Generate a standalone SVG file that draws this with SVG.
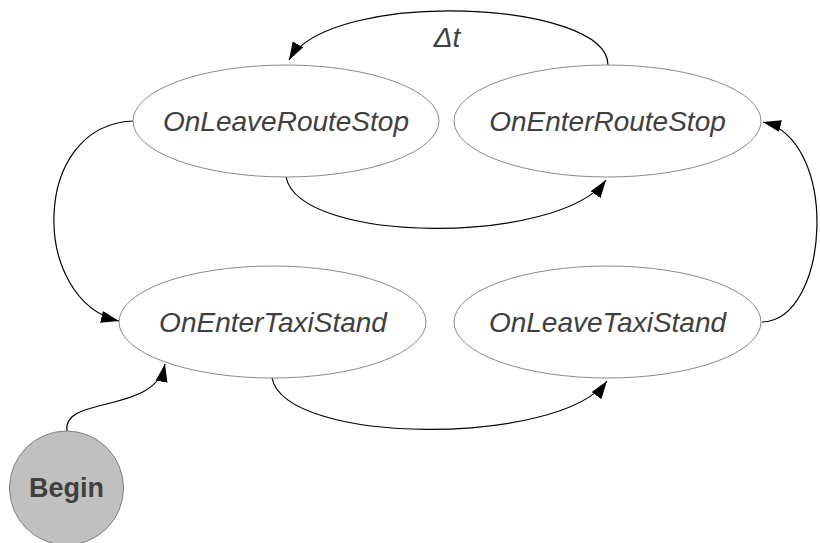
<svg xmlns="http://www.w3.org/2000/svg" width="820" height="543" viewBox="0 0 820 543">
  <style>
    .state { fill: #ffffff; stroke: #8a8a8a; stroke-width: 1; }
    .label { font-family: "Liberation Sans", Arial, sans-serif; font-size: 28px; font-style: italic; fill: #404040; text-anchor: middle; }
    .edge { fill: none; stroke: #000000; stroke-width: 1.2; marker-end: url(#arrow); }
    .start { fill: #c0c0c0; stroke: #808080; stroke-width: 1; }
    .startlabel { font-family: "Liberation Sans", Arial, sans-serif; font-size: 27px; font-weight: bold; fill: #404040; text-anchor: middle; }
  </style>
  <defs>
    <marker id="arrow" markerUnits="userSpaceOnUse" markerWidth="19" markerHeight="13" refX="18" refY="6" orient="auto">
      <path d="M0,0 L18,6 L0,12 z" fill="#000000"/>
    </marker>
  </defs>
  <rect width="820" height="543" fill="#ffffff"/>

  <g id="connectors">
    <path class="edge" d="M608,65 C608,0 330,-12 289,60"/>
    <text class="label" x="447" y="47">Δt</text>
    <path class="edge" d="M133,121 C30,125 30,300 119,321"/>
    <path class="edge" d="M286,177 C300,245 560,245 606,180"/>
    <path class="edge" d="M272,378 C286,446 560,446 607,381"/>
    <path class="edge" d="M762,322 C830,320 840,140 763,122"/>
    <path class="edge" d="M67,431 C62,395 155,415 165,364"/>
  </g>

  <g id="OnLeaveRouteStop">
    <ellipse class="state" cx="286" cy="121" rx="153" ry="56"/>
    <text class="label" x="286" y="131">OnLeaveRouteStop</text>
  </g>
  <g id="OnEnterRouteStop">
    <ellipse class="state" cx="607.5" cy="121" rx="153.5" ry="56"/>
    <text class="label" x="607.5" y="131">OnEnterRouteStop</text>
  </g>
  <g id="OnEnterTaxiStand">
    <ellipse class="state" cx="272.5" cy="322" rx="153.5" ry="56"/>
    <text class="label" x="273" y="332">OnEnterTaxiStand</text>
  </g>
  <g id="OnLeaveTaxiStand">
    <ellipse class="state" cx="607.5" cy="322" rx="153.5" ry="56"/>
    <text class="label" x="607.5" y="332">OnLeaveTaxiStand</text>
  </g>
  <g id="Begin">
    <circle class="start" cx="66.5" cy="488" r="57"/>
    <text class="startlabel" x="66.5" y="497">Begin</text>
  </g>
</svg>
